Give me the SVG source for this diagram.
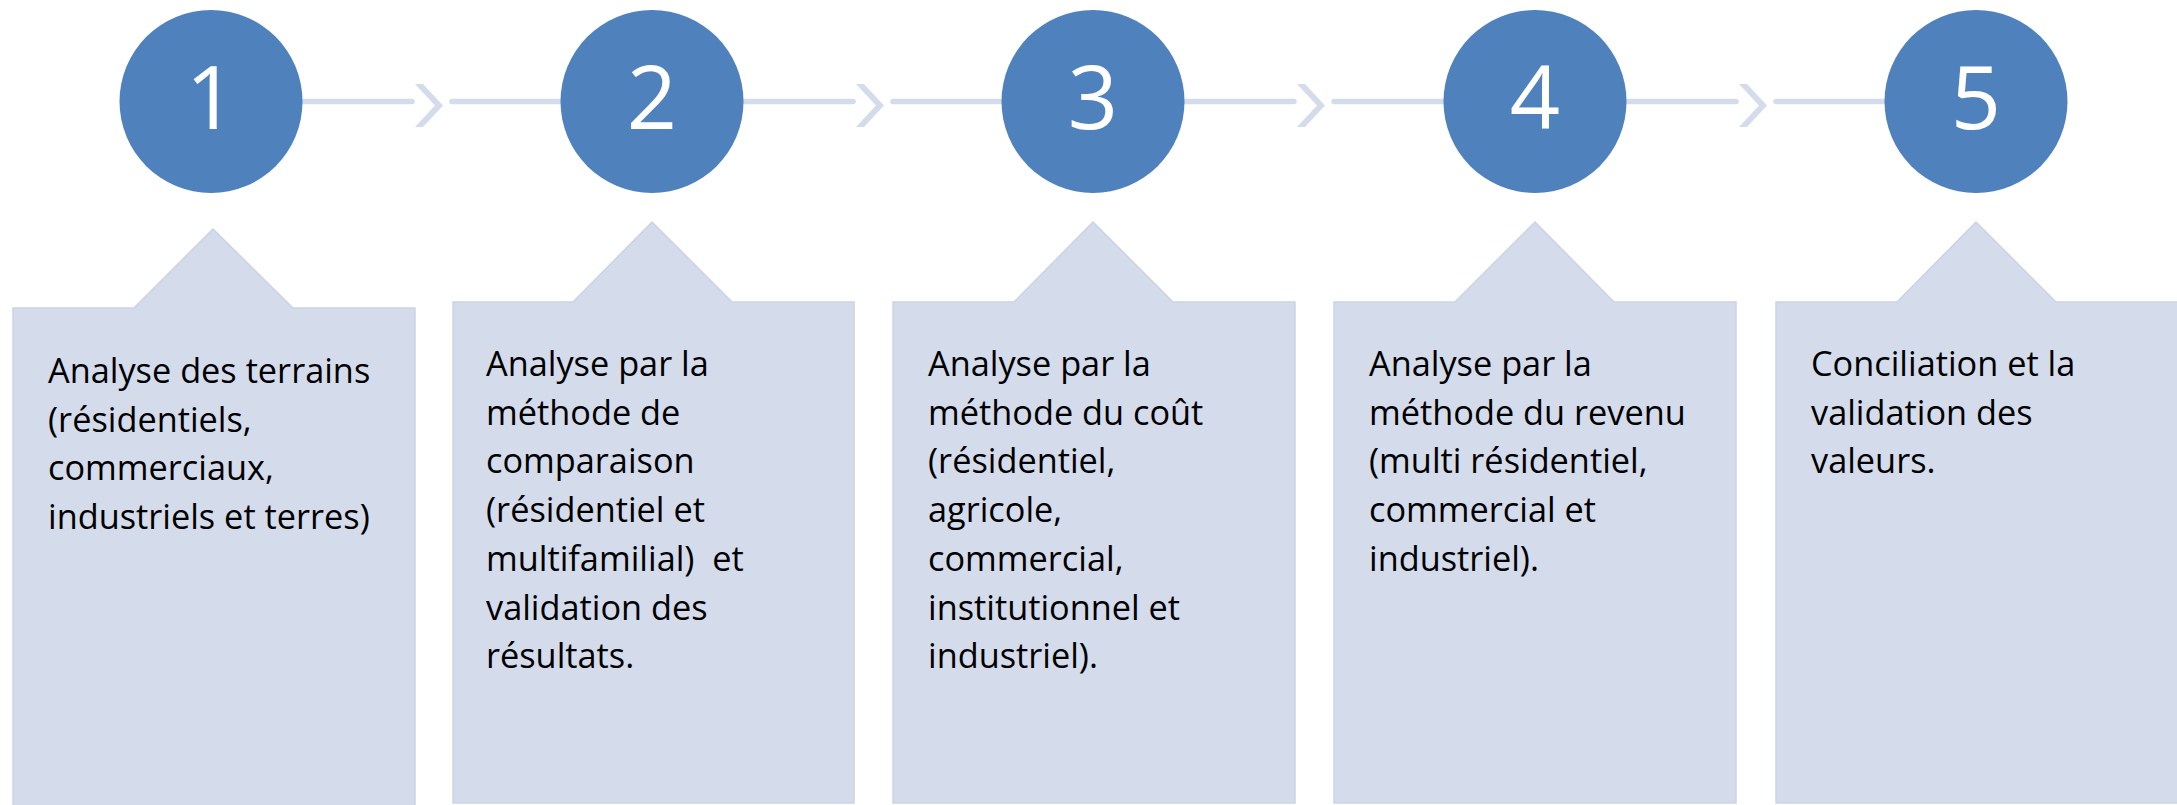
<svg xmlns="http://www.w3.org/2000/svg" width="2177" height="805" viewBox="0 0 2177 805">
<style>
.line{stroke:#D4DBEB;stroke-width:5.5;stroke-linecap:round;fill:none}
.chev{fill:#D4DBEB}
.circ{fill:#4F81BD}
.num{font-family:"Open Sans","Liberation Sans",sans-serif;font-size:88px;fill:#FFFFFF;text-anchor:middle}
.box{fill:#D4DBEB;stroke:#CAD3E6;stroke-width:1.5}
.txt{font-family:"Open Sans","Liberation Sans",sans-serif;font-size:34.3px;fill:#000000;white-space:pre}
</style>
<defs>
<polygon id="chevron" points="0,84 8,84 28,105.5 8,127 0,127 20,105.5"/>
</defs>
<g id="connectors">
<line class="line" x1="302" y1="101.5" x2="412" y2="101.5"/>
<use href="#chevron" class="chev" x="415"/>
<line class="line" x1="452" y1="101.5" x2="562" y2="101.5"/>
<line class="line" x1="743" y1="101.5" x2="853" y2="101.5"/>
<use href="#chevron" class="chev" x="856"/>
<line class="line" x1="893" y1="101.5" x2="1003" y2="101.5"/>
<line class="line" x1="1184" y1="101.5" x2="1294" y2="101.5"/>
<use href="#chevron" class="chev" x="1297"/>
<line class="line" x1="1334" y1="101.5" x2="1445" y2="101.5"/>
<line class="line" x1="1626" y1="101.5" x2="1736" y2="101.5"/>
<use href="#chevron" class="chev" x="1739"/>
<line class="line" x1="1776" y1="101.5" x2="1886" y2="101.5"/>
</g>
<g id="step1">
<circle class="circ" cx="211" cy="101.5" r="91.5"/>
<text class="num" x="211" y="129">1</text>
</g>
<g id="step2">
<circle class="circ" cx="652" cy="101.5" r="91.5"/>
<text class="num" x="652" y="129">2</text>
</g>
<g id="step3">
<circle class="circ" cx="1093" cy="101.5" r="91.5"/>
<text class="num" x="1093" y="129">3</text>
</g>
<g id="step4">
<circle class="circ" cx="1535" cy="101.5" r="91.5"/>
<text class="num" x="1535" y="129">4</text>
</g>
<g id="step5">
<circle class="circ" cx="1976" cy="101.5" r="91.5"/>
<text class="num" x="1976" y="129">5</text>
</g>
<g id="box1">
<polygon class="box" points="13,308 134,308 213,229 293,308 415,308 415,807 13,807"/>
<text class="txt" x="48" y="383">Analyse des terrains</text>
<text class="txt" x="48" y="431.7">(résidentiels,</text>
<text class="txt" x="48" y="480.4">commerciaux,</text>
<text class="txt" x="48" y="529.1">industriels et terres)</text>
</g>
<g id="box2">
<polygon class="box" points="453,302 573,302 652,222 732,302 854,302 854,803 453,803"/>
<text class="txt" x="486" y="376">Analyse par la</text>
<text class="txt" x="486" y="424.7">méthode de</text>
<text class="txt" x="486" y="473.4">comparaison</text>
<text class="txt" x="486" y="522.1">(résidentiel et</text>
<text class="txt" x="486" y="570.8">multifamilial)  et</text>
<text class="txt" x="486" y="619.5">validation des</text>
<text class="txt" x="486" y="668.2">résultats.</text>
</g>
<g id="box3">
<polygon class="box" points="893,302 1014,302 1093,222 1173,302 1295,302 1295,803 893,803"/>
<text class="txt" x="928" y="376">Analyse par la</text>
<text class="txt" x="928" y="424.7">méthode du coût</text>
<text class="txt" x="928" y="473.4">(résidentiel,</text>
<text class="txt" x="928" y="522.1">agricole,</text>
<text class="txt" x="928" y="570.8">commercial,</text>
<text class="txt" x="928" y="619.5">institutionnel et</text>
<text class="txt" x="928" y="668.2">industriel).</text>
</g>
<g id="box4">
<polygon class="box" points="1334,302 1455,302 1535,222 1614,302 1736,302 1736,803 1334,803"/>
<text class="txt" x="1369" y="376">Analyse par la</text>
<text class="txt" x="1369" y="424.7">méthode du revenu</text>
<text class="txt" x="1369" y="473.4">(multi résidentiel,</text>
<text class="txt" x="1369" y="522.1">commercial et</text>
<text class="txt" x="1369" y="570.8">industriel).</text>
</g>
<g id="box5">
<polygon class="box" points="1776,302 1897,302 1976,222 2056,302 2178,302 2178,803 1776,803"/>
<text class="txt" x="1811" y="376">Conciliation et la</text>
<text class="txt" x="1811" y="424.7">validation des</text>
<text class="txt" x="1811" y="473.4">valeurs.</text>
</g>
</svg>
